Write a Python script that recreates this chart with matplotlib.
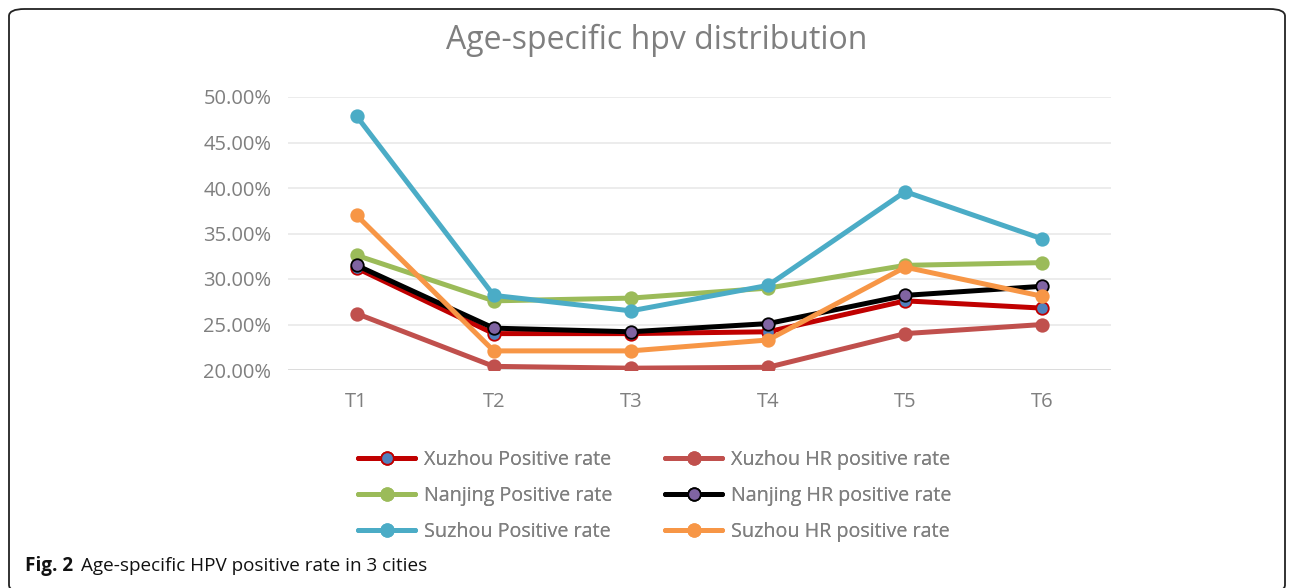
import matplotlib
matplotlib.use("Agg")
import matplotlib.pyplot as plt
from matplotlib.patches import FancyBboxPatch
from matplotlib.ticker import FuncFormatter

categories = ["T1", "T2", "T3", "T4", "T5", "T6"]
xuzhou_pos = [31.2, 24.0, 24.0, 24.2, 27.6, 26.8]
xuzhou_hr = [26.2, 20.4, 20.2, 20.3, 24.0, 25.0]
nanjing_pos = [32.6, 27.6, 27.9, 29.0, 31.5, 31.8]
nanjing_hr = [31.5, 24.6, 24.2, 25.1, 28.2, 29.2]
suzhou_pos = [47.9, 28.2, 26.5, 29.3, 39.6, 34.4]
suzhou_hr = [37.0, 22.1, 22.1, 23.3, 31.3, 28.1]
yticks = [20, 25, 30, 35, 40, 45, 50]

W, H = 1293, 588
fig = plt.figure(figsize=(W / 100, H / 100), dpi=100)
FONT = ["Open Sans", "DejaVu Sans"]
GRAY = "#7f7f7f"

def fx(px):
    return px / W

def fy(py):
    return 1 - py / H

# outer rounded border
border = FancyBboxPatch((fx(9), fy(592)), fx(1285) - fx(9), fy(9) - fy(592),
                        boxstyle="round,pad=0,rounding_size=0.012",
                        transform=fig.transFigure, fill=False,
                        edgecolor="#222222", linewidth=1.3, clip_on=False)
fig.add_artist(border)

ax = fig.add_axes([fx(288), fy(370), fx(1111) - fx(288), fy(97) - fy(370)])
x = list(range(len(categories)))

series = [
    ("Xuzhou Positive rate", xuzhou_pos, "#C00000", "#4F81BD", "#C00000"),
    ("Xuzhou HR positive rate", xuzhou_hr, "#C0504D", "#C0504D", "#C0504D"),
    ("Nanjing Positive rate", nanjing_pos, "#9BBB59", "#9BBB59", "#9BBB59"),
    ("Nanjing HR positive rate", nanjing_hr, "#000000", "#8064A2", "#000000"),
    ("Suzhou Positive rate", suzhou_pos, "#4BACC6", "#4BACC6", "#4BACC6"),
    ("Suzhou HR positive rate", suzhou_hr, "#F79646", "#F79646", "#F79646"),
]
handles = []
for name, vals, lc, mfc, mec in series:
    h, = ax.plot(x, vals, color=lc, linewidth=3.6, marker="o", markersize=9,
                 markerfacecolor=mfc, markeredgecolor=mec, markeredgewidth=1.3,
                 label=name, solid_capstyle="round", solid_joinstyle="round")
    handles.append(h)

ax.set_xlim(-0.5, 5.5)
ax.set_ylim(20, 50)
ax.set_yticks(yticks)
ax.yaxis.set_major_formatter(FuncFormatter(lambda v, p: f"{v:.2f}%"))
ax.set_xticks(x)
ax.set_xticklabels(categories)
ax.grid(axis="y", color="#e9e9e9", linewidth=1.2)
ax.set_axisbelow(True)
for s in ax.spines.values():
    s.set_visible(False)
ax.axhline(20, color="#d9d9d9", linewidth=1.2, zorder=1)
ax.tick_params(axis="both", length=0, labelcolor=GRAY)
ax.tick_params(axis="y", pad=12)
ax.tick_params(axis="x", pad=16)
for lab in ax.get_xticklabels() + ax.get_yticklabels():
    lab.set_fontfamily(FONT)
    lab.set_fontsize(14.5)

fig.text(fx(657), fy(40), "Age-specific hpv distribution", ha="center", va="center",
         fontsize=23, color=GRAY, family=FONT)

# legend: two columns, rows read across as in the original
for col, (xpx, idxs) in enumerate([(358, [0, 2, 4]), (665, [1, 3, 5])]):
    leg = fig.legend([handles[i] for i in idxs], [series[i][0] for i in idxs],
                     loc="upper left", bbox_to_anchor=(fx(xpx), fy(450)),
                     frameon=False, ncol=1, handlelength=2.9, handletextpad=0.45,
                     labelspacing=0.8, borderaxespad=0, borderpad=0,
                     prop={"family": FONT, "size": 14.2})
    for t in leg.get_texts():
        t.set_color(GRAY)
    fig.add_artist(leg)

fig.text(fx(25), fy(566), "Fig. 2", ha="left", va="center", fontsize=13.6,
         fontweight="bold", family=FONT, color="#111111")
fig.text(fx(81), fy(566), "Age-specific HPV positive rate in 3 cities", ha="left",
         va="center", fontsize=13.6, family=FONT, color="#111111")

fig.savefig("out.png", dpi=100)
